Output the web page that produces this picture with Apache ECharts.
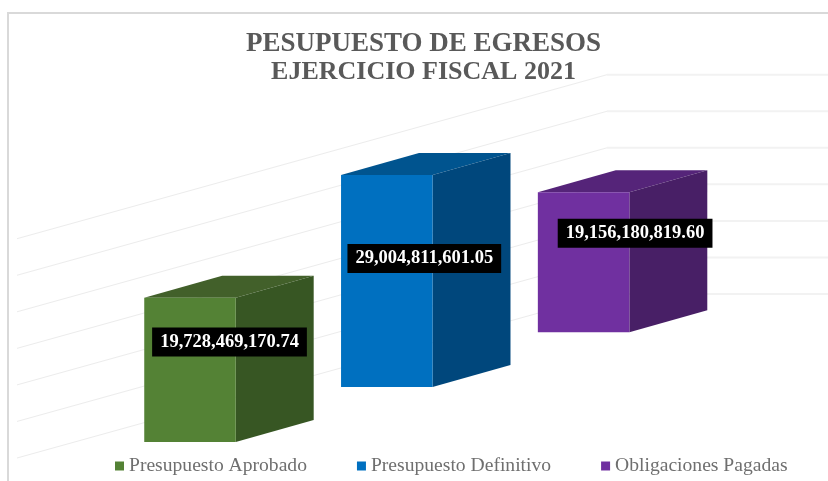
<!DOCTYPE html>
<html>
<head>
<meta charset="utf-8">
<style>html,body{margin:0;padding:0;background:#fff}#c{width:828px;height:481px}</style>
<script src="https://cdn.jsdelivr.net/npm/echarts@6/dist/echarts.min.js"></script>
</head>
<body>
<div id="c"></div>
<script>
const titleLines = ['PESUPUESTO DE EGRESOS', 'EJERCICIO FISCAL 2021'];
const categories = ['Presupuesto Aprobado', 'Presupuesto Definitivo', 'Obligaciones Pagadas'];
const aprobado = [19728469170.74];
const definitivo = [29004811601.05];
const pagadas = [19156180819.60];
const gridTicks = [0, 5e9, 10e9, 15e9, 20e9, 25e9, 30e9];

const FONT = '"Liberation Serif", serif';
const shades = [
  { front: '#548235', side: '#375623', top: '#42602a' },
  { front: '#0070c0', side: '#00477c', top: '#00548f' },
  { front: '#7030a0', side: '#481f66', top: '#552479' }
];
const labelNudge = [[39.5, -28], [37.5, -22.5], [51.5, -29]];

function fmt(v) {
  return v.toLocaleString('en-US', { minimumFractionDigits: 2, maximumFractionDigits: 2 });
}

function wallItem(params, api) {
  const y = api.coord([0, api.value(1)])[1] - 148;
  return {
    type: 'group',
    silent: true,
    children: [
      { type: 'line', shape: { x1: 17, y1: y + 164, x2: 607, y2: y }, style: { stroke: '#ececec', lineWidth: 1 } },
      { type: 'line', shape: { x1: 607, y1: y, x2: 828, y2: y }, style: { stroke: '#f2f2f2', lineWidth: 2 } }
    ]
  };
}

function barItem(idx) {
  return function (params, api) {
    const cat = api.value(0);
    const v = api.value(1);
    const band = api.size([1, 0])[0];
    const top = api.coord([cat, v]);
    const base = api.coord([cat, 0]);
    const first = api.coord([0, 0]);
    const lift = (top[0] - first[0]) * 0.279;
    const w = band * 0.465;
    const dx = band * 0.396;
    const dy = dx * 0.282;
    const x0 = top[0] - w / 2, x1 = top[0] + w / 2;
    const yT = top[1] - lift, yB = base[1] - lift;
    const s = shades[idx];
    const n = labelNudge[idx];
    return {
      type: 'group',
      children: [
        { type: 'polygon', shape: { points: [[x0, yT], [x1, yT], [x1 + dx, yT - dy], [x0 + dx, yT - dy]] }, style: { fill: s.top } },
        { type: 'polygon', shape: { points: [[x1, yT], [x1 + dx, yT - dy], [x1 + dx, yB - dy], [x1, yB]] }, style: { fill: s.side } },
        { type: 'rect', shape: { x: x0, y: yT, width: w, height: yB - yT }, style: { fill: s.front } },
        {
          type: 'text',
          z2: 50,
          x: top[0] + n[0],
          y: (yT + yB) / 2 + n[1],
          style: {
            text: fmt(v),
            font: 'bold 18.5px ' + FONT,
            fill: '#ffffff',
            align: 'center',
            verticalAlign: 'middle',
            backgroundColor: '#000000',
            padding: [5, 8, 5, 8]
          }
        }
      ]
    };
  };
}

const chart = echarts.init(document.getElementById('c'), null, { renderer: 'canvas' });
const values = [aprobado, definitivo, pagadas];
chart.setOption({
  animation: false,
  backgroundColor: '#ffffff',
  title: {
    text: '{a|' + titleLines[0] + '}\n{b|' + titleLines[1] + '}',
    left: 418.5,
    top: 25,
    textAlign: 'center',
    textStyle: {
      rich: {
        a: { fontFamily: FONT, fontWeight: 'bold', fontSize: 27, lineHeight: 28, color: '#595959', align: 'center' },
        b: { fontFamily: FONT, fontWeight: 'bold', fontSize: 26, lineHeight: 28, color: '#595959', align: 'center' }
      }
    }
  },
  legend: {
    data: categories,
    left: 110,
    top: 451,
    icon: 'rect',
    itemWidth: 9,
    itemHeight: 9,
    itemGap: 50,
    textStyle: { fontFamily: FONT, fontSize: 19.6, color: '#6f6f6f' }
  },
  grid: { left: 91.6, width: 590.4, top: 222.7, height: 219.3 },
  xAxis: { type: 'category', data: categories, show: false },
  yAxis: { type: 'value', min: 0, max: 30e9, interval: 5e9, show: false, splitLine: { show: false } },
  graphic: [
    { type: 'line', z: -10, shape: { x1: 7, y1: 13, x2: 828, y2: 13 }, style: { stroke: '#d9d9d9', lineWidth: 2 } },
    { type: 'line', z: -10, shape: { x1: 8, y1: 13, x2: 8, y2: 481 }, style: { stroke: '#d9d9d9', lineWidth: 2 } }
  ],
  series: [
    {
      type: 'custom', name: 'wall', z: 1, silent: true,
      renderItem: wallItem,
      encode: { x: 0, y: 1 },
      data: gridTicks.map(t => [0, t])
    }
  ].concat(categories.map((name, i) => ({
    type: 'custom',
    name,
    z: 2 + i,
    itemStyle: { color: shades[i].front },
    renderItem: barItem(i),
    encode: { x: 0, y: 1 },
    data: values[i].map(v => [i, v])
  })))
});
</script>
</body>
</html>
